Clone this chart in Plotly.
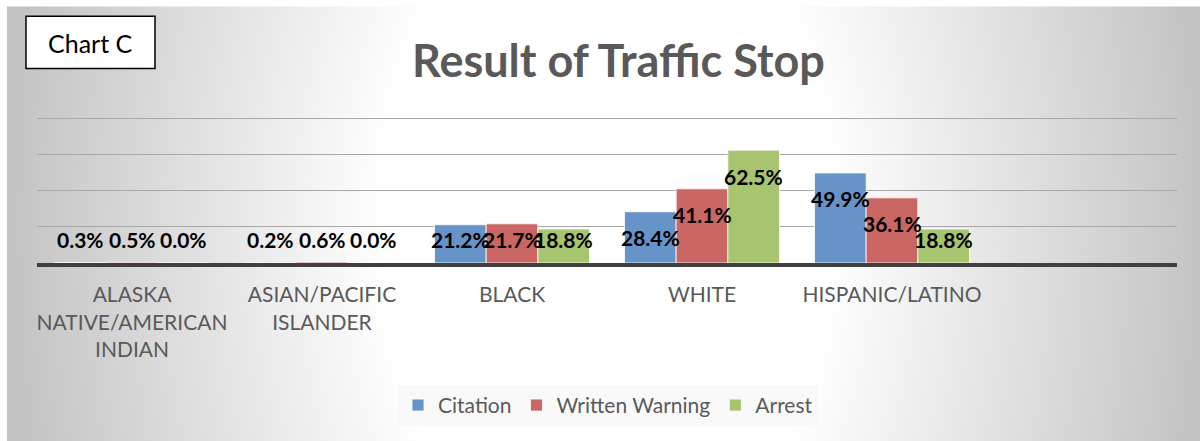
import base64
import plotly.graph_objects as go

# ---------------- data ----------------
categories = ["ALASKA NATIVE/AMERICAN INDIAN", "ASIAN/PACIFIC ISLANDER", "BLACK", "WHITE", "HISPANIC/LATINO"]
tick_labels = ["ALASKA<br>NATIVE/AMERICAN<br>INDIAN", "ASIAN/PACIFIC<br>ISLANDER", "BLACK", "WHITE", "HISPANIC/LATINO"]
citation = [0.3, 0.2, 21.2, 28.4, 49.9]
written_warning = [0.5, 0.6, 21.7, 41.1, 36.1]
arrest = [0.0, 0.0, 18.8, 62.5, 18.8]
series_names = ["Citation", "Written Warning", "Arrest"]
series_values = [citation, written_warning, arrest]
series_colors = ["#6794C8", "#CA6663", "#A7C46E"]
title_text = "Result of Traffic Stop"
box_text = "Chart C"

# ---------------- geometry ----------------
W, H = 1200, 441
Y_MAX = 82
px_per_unit = 1.8
PL, PR, PB = 37, 1177, 263  # plot area in pixels
PT = PB - Y_MAX * px_per_unit
PW, PH = PR - PL, PB - PT
slot = PW / 6
bargap = 35 / slot
bar_px = slot * (1 - bargap) / 3


def px_x(p):
    return (p - PL) / PW


def px_y(p):
    return (PB - p) / PH


# background radial gradient (decoration)
svg = '''<svg xmlns="http://www.w3.org/2000/svg" width="1193" height="434" viewBox="0 0 1193 434" preserveAspectRatio="none">
<defs><radialGradient id="g" gradientUnits="userSpaceOnUse" cx="600" cy="220" r="600"
gradientTransform="translate(600 220) scale(1 1.6) translate(-600 -220)">
<stop offset="0" stop-color="#ffffff"/><stop offset="0.37" stop-color="#ffffff"/>
<stop offset="1" stop-color="#c3c3c3"/></radialGradient></defs>
<rect x="0" y="0" width="1193" height="434" fill="url(#g)"/></svg>'''
bg_uri = "data:image/svg+xml;base64," + base64.b64encode(svg.encode()).decode()

fig = go.Figure()
for name, vals, col in zip(series_names, series_values, series_colors):
    fig.add_trace(go.Bar(
        x=categories, y=vals, name=name,
        marker=dict(color=col, line=dict(color="rgba(255,255,255,0.8)", width=1)),
        hoverinfo="skip",
    ))

annotations = []
label_font = dict(family="Lato", size=21, color="#000000")
clamp_val = (23 + 26) / px_per_unit
for i, vals in enumerate(series_values):
    for cat, v in zip(categories, vals):
        annotations.append(dict(
            x=cat, y=max(v, clamp_val), xref="x", yref="y",
            text=f"<b>{v:.1f}%</b>", showarrow=False,
            xshift=(i - 1) * bar_px, yshift=-26, yanchor="middle",
            font=label_font,
        ))

annotations.append(dict(
    x=px_x(618), y=px_y(61), xref="paper", yref="paper",
    text=f"<b>{title_text}</b>", showarrow=False,
    xanchor="center", yanchor="middle",
    font=dict(family="Lato", size=45, color="#595959"),
))
annotations.append(dict(
    x=px_x(90.5), y=px_y(44), xref="paper", yref="paper",
    text=box_text, showarrow=False, xanchor="center", yanchor="middle",
    font=dict(family="Lato", size=25, color="#000000"),
))

shapes = [dict(
    type="rect", xref="paper", yref="paper",
    x0=px_x(26), x1=px_x(155), y0=px_y(69), y1=px_y(17),
    fillcolor="#ffffff", line=dict(color="#000000", width=1.5), layer="above",
)]

fig.update_layout(
    width=W, height=H,
    margin=dict(l=PL, r=W - PR, t=PT, b=H - PB),
    paper_bgcolor="#ffffff", plot_bgcolor="rgba(0,0,0,0)",
    barmode="group", bargap=bargap, bargroupgap=0,
    showlegend=True,
    legend=dict(
        orientation="h", x=px_x(608), xanchor="center", y=px_y(405), yanchor="middle",
        font=dict(family="Lato", size=21, color="#595959"),
        bgcolor="rgba(248,248,248,0.85)", traceorder="normal",
    ),
    xaxis=dict(
        type="category", range=[-0.5, 5.5],
        tickvals=categories, ticktext=tick_labels,
        showgrid=False, ticks="", showline=True, linecolor="#404040", linewidth=4,
        tickfont=dict(family="Lato", size=21, color="#595959"),
        ticklabelstandoff=10, fixedrange=True,
    ),
    yaxis=dict(
        range=[0, Y_MAX], tickvals=[0, 20, 40, 60, 80], showgrid=True,
        gridcolor="#a8a8a8", gridwidth=1,
        showticklabels=False, zeroline=False, showline=False, fixedrange=True,
    ),
    annotations=annotations, shapes=shapes,
    images=[dict(
        source=bg_uri, xref="paper", yref="paper",
        x=px_x(7), y=px_y(7), sizex=1193 / PW, sizey=434 / PH,
        xanchor="left", yanchor="top", sizing="stretch", layer="below",
    )],
)

fig.write_html("out.html", config={"displayModeBar": False},
               post_script="document.body.style.margin='0px';")
